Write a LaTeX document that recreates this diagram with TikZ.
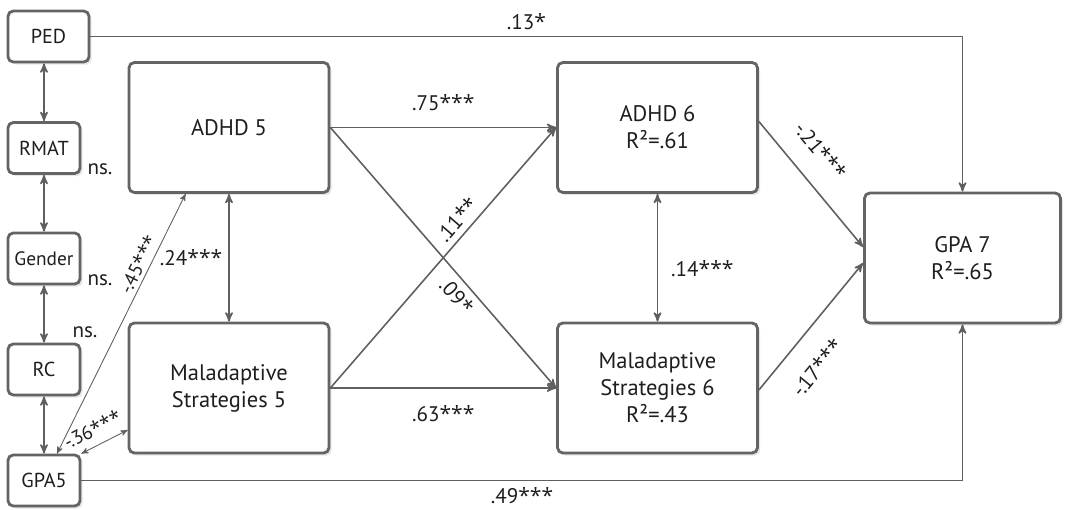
\documentclass[tikz,border=0pt]{standalone}
\usepackage{fontspec}
\setmainfont{PT Sans}
\newfontfamily\starfont{Open Sans}
\usetikzlibrary{shapes,arrows,calc,positioning,shadows}
\usepackage{color}

\definecolor{boxgray}{RGB}{100,100,100}
\definecolor{linegray}{RGB}{95,95,95}
\definecolor{txtgray}{RGB}{30,30,30}

\newcommand{\sig}[1]{{\starfont #1}}

\tikzset{
  var/.style={draw=boxgray, line width=1.6pt, rounded corners=3pt, fill=white, align=center, text=txtgray,
    drop shadow={opacity=0.2, shadow xshift=1.5pt, shadow yshift=-1.5pt}},
  bigvar/.style={var, minimum width=4cm, minimum height=2.6cm, font=\fontsize{12.8}{15.3}\selectfont},
  smallvar/.style={var, minimum width=1.44cm, minimum height=1.02cm, font=\fontsize{11.5}{13}\selectfont},
  coef/.style={font=\fontsize{12}{14}\selectfont, text=txtgray},
  smallcoef/.style={font=\fontsize{11}{13}\selectfont, text=txtgray, inner sep=2pt},
  link/.style={draw=linegray, line width=0.9pt},
  thinlink/.style={draw=linegray, line width=0.5pt}
}

\begin{document}
\begin{tikzpicture}[x=0.02cm, y=-0.02cm, >=stealth']

\useasboundingbox (0,0) rectangle (1065,510);

% left column
\node[smallvar, minimum width=1.62cm] at (48.5, 36.5) (PED) {PED};
\node[smallvar] at (44, 148) (RMAT) {RMAT};
\node[smallvar, inner xsep=1pt, font=\fontsize{11}{13}\selectfont] at (44, 258.5) (Gender) {Gender};
\node[smallvar] at (44, 369.5) (RC) {RC};
\node[smallvar] at (44, 480.5) (GPA5) {GPA5};

\node[coef] at (100, 169) (nsRMAT) {ns.};
\node[coef] at (100, 280) (nsGender) {ns.};
\node[coef] at (85, 332) (nsRC) {ns.};

% wave 5 and 6
\node[bigvar] at (229, 127.5) (ADHD5) {ADHD 5};
\node[bigvar] at (229, 388) (MAL5) {Maladaptive\\Strategies 5};
\node[bigvar] at (657.5, 127.5) (ADHD6) {ADHD 6\\R²=.61};
\node[bigvar] at (657.5, 388) (MAL6) {Maladaptive\\Strategies 6\\R²=.43};

% outcome
\node[bigvar, minimum width=3.92cm] at (962.5, 258) (GPA7) {GPA 7\\R²=.65};

\draw [->, link] (PED) -| node[coef, above, pos=0.25] {.13\sig{*}} (GPA7);
\draw [->, link] (GPA5) -| node[coef, below, pos=0.25] {.49\sig{***}} (GPA7);

\draw [<->, link] (RMAT.north) -- (RMAT.north |- PED.south);
\draw [<->, link] (RMAT) -- (Gender);
\draw [<->, link] (Gender) -- (RC);
\draw [<->, link] (RC) -- (GPA5);

\draw [<->, link] (ADHD5) -- node[coef, left] {.24\sig{***}} (MAL5);
\draw [<->, link] (ADHD6) -- node[coef, right, xshift=4pt, yshift=-6pt] {.14\sig{***}} (MAL6);
\draw [->, link] (ADHD5) -- node[coef, above, yshift=6pt] {.75\sig{***}} (ADHD6);
\draw [->, link] (MAL5) -- node[coef, below, yshift=-6pt] {.63\sig{***}} (MAL6);
\draw [->, link] (ADHD5.east) -- node[coef, sloped, below, pos=0.61] {.09\sig{*}} (MAL6.west);
\draw [->, link] (MAL5.east) -- node[coef, sloped, above, pos=0.61] {.11\sig{**}} (ADHD6.west);
\draw [->, link] ($(ADHD6.east)+(0,-6)$) -- node[coef, sloped, above=8pt, pos=0.38] {-.21\sig{***}} ($(GPA7.west)+(0,-11)$);
\draw [->, link] ($(MAL6.east)+(0,2)$) -- node[coef, sloped, below=9pt, pos=0.33] {-.17\sig{***}} ($(GPA7.west)+(0,5)$);

\draw [<->, thinlink] ($(GPA5.north)+(13,0)$) -- node[smallcoef, sloped, above, pos=0.71] {-.45\sig{***}} ($(ADHD5.south west)+(58,0)$);
\draw [<->, thinlink] (GPA5.north east) -- node[smallcoef, sloped, above=3pt, pos=0.4] {-.36\sig{***}} ($(MAL5.west)+(0,42)$);

\end{tikzpicture}
\end{document}
